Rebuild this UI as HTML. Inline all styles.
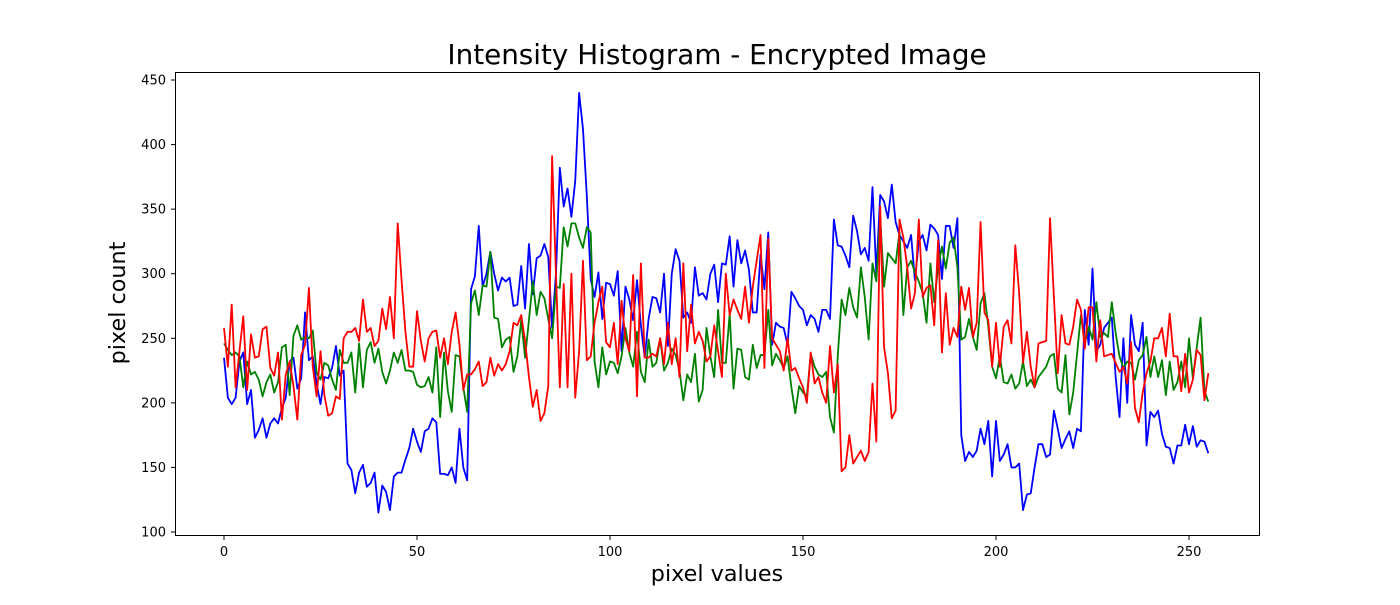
<!DOCTYPE html>
<html><head><meta charset="utf-8">
<style>
html,body{margin:0;padding:0;background:#fff;}
svg text{font-family:"DejaVu Sans","Liberation Sans",sans-serif;}
</style></head>
<body>
<svg id="chart" width="1400" height="600" viewBox="0 0 1400 600" xmlns="http://www.w3.org/2000/svg">
<rect width="1400" height="600" fill="#fff"/>
<text x="717" y="64" text-anchor="middle" font-size="27.8" fill="#000">Intensity Histogram - Encrypted Image</text>
<g id="plot"></g>
<text x="717" y="581" text-anchor="middle" font-size="22.3" fill="#000">pixel values</text>
<text transform="translate(125,303) rotate(-90)" text-anchor="middle" font-size="22.3" fill="#000">pixel count</text>
</svg>
<script>
const xTicks=[0,50,100,150,200,250];
const yTicks=[100,150,200,250,300,350,400,450];
const blueVals=[235,204,199,204,232,239,199,210,173,179,188,173,184,188,184,196,204,232,235,211,219,270,233,236,215,199,220,219,227,244,221,225,153,148,130,146,152,135,138,146,115,136,131,117,143,146,146,156,165,180,170,162,178,180,188,185,145,145,144,150,138,180,150,140,288,298,337,290,300,317,300,287,297,294,297,275,276,306,273,323,284,312,314,323,313,258,300,382,352,366,344,372,440,412,360,296,282,301,265,293,292,283,302,240,290,280,264,295,260,235,265,282,281,270,300,244,300,319,310,266,270,262,305,283,285,280,300,307,278,308,307,329,290,326,308,318,303,270,270,315,288,332,245,262,259,258,245,286,281,275,272,260,268,265,255,272,272,265,342,322,321,314,305,345,333,315,320,310,367,300,361,356,343,369,340,330,325,320,330,295,325,330,318,338,335,330,296,337,337,320,343,175,155,162,158,163,180,168,186,143,186,155,160,168,150,150,153,117,129,130,150,168,168,158,160,194,180,165,172,178,165,180,178,272,245,304,240,245,258,262,266,220,189,250,200,268,245,240,262,167,193,189,194,176,166,165,153,167,167,183,168,182,166,171,170,161];
const greenVals=[246,241,237,239,236,212,232,222,224,218,205,216,222,208,216,243,245,206,252,260,249,251,250,256,223,218,231,229,218,210,241,231,231,239,208,246,212,241,247,231,242,224,215,225,239,231,241,225,225,224,214,212,213,220,208,243,189,239,209,193,237,236,212,193,277,287,268,291,290,317,266,265,243,249,251,224,236,264,235,264,294,268,286,281,265,250,290,289,336,321,339,339,328,320,336,332,232,212,243,222,232,231,223,236,258,239,228,255,224,216,249,228,231,250,225,231,242,237,225,202,222,216,238,201,210,258,236,220,272,231,231,269,211,242,241,220,218,245,227,237,237,272,229,238,233,227,236,212,192,213,208,205,238,228,222,220,224,189,177,236,280,268,289,274,266,305,282,249,308,294,344,290,316,312,308,332,268,305,310,301,294,285,262,308,278,305,321,304,324,328,305,249,251,265,251,241,277,285,259,228,219,236,216,215,222,211,215,232,213,218,212,220,224,228,236,238,211,208,237,191,208,238,268,246,259,249,278,251,254,251,278,254,236,227,232,231,218,233,237,251,220,236,220,233,206,232,210,216,232,212,250,219,243,266,209,201];
const redVals=[258,228,276,212,240,267,210,253,235,236,257,259,227,221,239,187,222,232,213,187,237,245,289,228,205,240,206,190,192,205,203,250,255,255,258,248,280,255,258,244,248,273,257,282,250,339,295,255,228,228,271,248,232,250,255,256,235,250,230,255,270,245,210,222,222,226,232,213,216,235,221,230,225,230,240,262,260,268,248,220,197,210,186,192,213,391,300,212,292,212,300,204,240,310,233,236,262,278,290,247,243,262,230,279,250,240,299,205,308,235,235,238,236,250,230,262,230,250,220,308,240,276,246,255,248,232,236,260,240,220,300,268,280,272,265,290,262,290,310,330,227,327,250,245,240,225,250,225,227,219,212,200,239,215,220,208,200,244,208,230,147,150,175,153,158,163,155,162,215,170,352,243,223,188,194,342,328,305,273,285,342,282,289,291,260,326,239,285,245,258,251,290,272,289,251,262,340,270,264,228,262,228,259,264,246,322,285,231,255,228,212,246,247,248,343,282,223,268,246,245,259,280,272,242,274,274,232,264,236,237,238,231,224,228,215,247,196,185,208,223,232,250,250,258,236,269,236,236,209,238,208,218,241,237,202,223];

const L=175,R=1259,T=72,B=535;
function xs(v){return 224+(v)*(1189-224)/250;}
function ys(v){return 532-(v-100)*(532-80)/350;}
const NS="http://www.w3.org/2000/svg";
const plot=document.getElementById('plot');
function mk(tag,attrs){const e=document.createElementNS(NS,tag);for(const k in attrs)e.setAttribute(k,attrs[k]);return e;}

const series=[[blueVals,'#0000ff','blue-channel-line'],[greenVals,'#008000','green-channel-line'],[redVals,'#ff0000','red-channel-line']];
series.forEach(s=>{
  const pts=s[0].map((v,i)=>xs(i).toFixed(2)+','+ys(v).toFixed(2)).join(' ');
  const pl=mk('polyline',{points:pts,fill:'none',stroke:s[1],'stroke-width':1.8,'stroke-linejoin':'round'});
  
  
  plot.appendChild(pl);
});
const frame=mk('rect',{x:L+0.5,y:T+0.5,width:R-L,height:B-T,fill:'none',stroke:'#000','stroke-width':1});


plot.appendChild(frame);
xTicks.forEach(t=>{
  const x=xs(t);
  const ln=mk('line',{x1:x,y1:B+0.5,x2:x,y2:B+5,stroke:'#000'});
  
  
  plot.appendChild(ln);
  const tx=mk('text',{x:x,y:B+21,'text-anchor':'middle','font-size':13,fill:'#000'});
  
  
  tx.textContent=t;plot.appendChild(tx);
});
yTicks.forEach(t=>{
  const y=ys(t);
  const ln=mk('line',{x1:L-4,y1:y,x2:L+0.5,y2:y,stroke:'#000'});
  
  
  plot.appendChild(ln);
  const tx=mk('text',{x:L-9,y:y+4.5,'text-anchor':'end','font-size':13,fill:'#000'});
  
  
  tx.textContent=t;plot.appendChild(tx);
});
</script>
</body></html>
